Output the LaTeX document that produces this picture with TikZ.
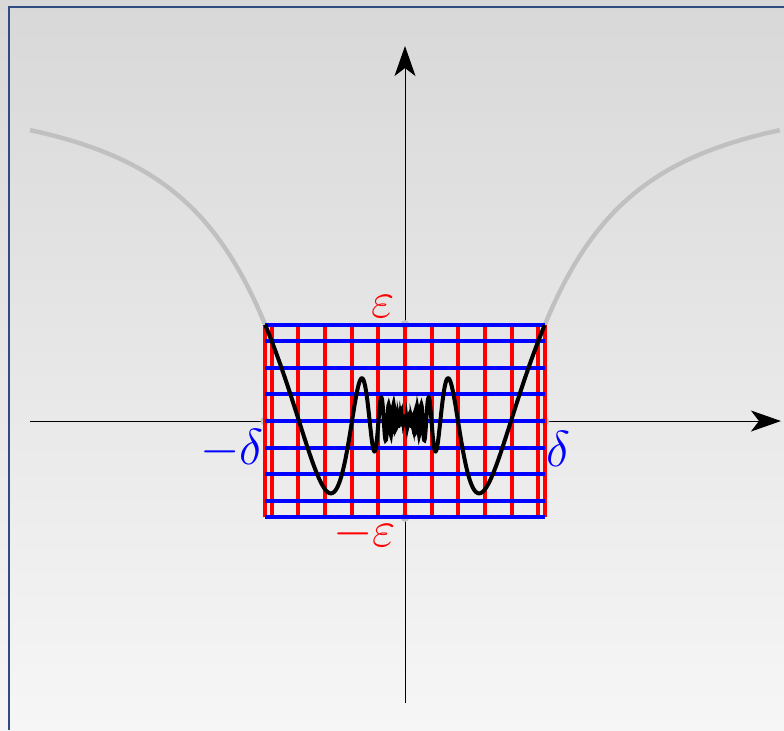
\documentclass[tikz,border=0pt]{standalone}
\usepackage{amssymb,tikz}
\usetikzlibrary{arrows.meta}
\definecolor{bgtop}{RGB}{216,216,216}
\definecolor{bgbot}{RGB}{246,246,246}
\definecolor{framecol}{RGB}{46,76,128}
\definecolor{ghost}{RGB}{192,192,192}

\begin{document}
\begin{tikzpicture}[x=166.5pt,y=166.5pt,
  declare function={f(\t)=\t*sin(deg(mod(1/\t,2*pi)));},
  axis/.style={line width=0.5pt,-{Stealth[length=15pt,width=10.5pt,inset=4pt]}},
  gridred/.style={red,line width=2pt},
  gridblue/.style={blue,line width=2pt},
  lbl/.style={font=\huge,scale=1.22}]
\useasboundingbox (-1.2162,-0.9279) rectangle (1.1381,1.2643);
\shade[top color=bgtop,bottom color=bgbot] (-1.2162,-0.9279) rectangle (1.1381,1.2643);
\draw[framecol,line width=0.8pt] (-1.1892,-0.9279) -- (-1.1892,1.2432) -- (1.1381,1.2432);
\draw[ghost,line width=2.2pt] plot[domain=-1.126:-0.42,samples=80,smooth] (\x,{f(\x)});
\draw[ghost,line width=2.2pt] plot[domain=0.42:1.126,samples=80,smooth] (\x,{f(\x)});
\draw[axis] (-1.126,0) -- (1.129,0);
\draw[axis] (0,-0.847) -- (0,1.126);
\fill[ghost] (-0.42,0) circle (0.0135);
\fill[ghost] (0.42,0) circle (0.0135);
\fill[ghost] (0,0.2895) circle (0.0135);
\fill[ghost] (0,-0.2895) circle (0.0135);
\draw[gridred] (-0.42,-0.2895) -- (-0.42,0.2895);
\draw[gridred] (-0.40,-0.2895) -- (-0.40,0.2895);
\draw[gridred] (-0.32,-0.2895) -- (-0.32,0.2895);
\draw[gridred] (-0.24,-0.2895) -- (-0.24,0.2895);
\draw[gridred] (-0.16,-0.2895) -- (-0.16,0.2895);
\draw[gridred] (-0.08,-0.2895) -- (-0.08,0.2895);
\draw[gridred] (0,-0.2895) -- (0,0.2895);
\draw[gridred] (0.08,-0.2895) -- (0.08,0.2895);
\draw[gridred] (0.16,-0.2895) -- (0.16,0.2895);
\draw[gridred] (0.24,-0.2895) -- (0.24,0.2895);
\draw[gridred] (0.32,-0.2895) -- (0.32,0.2895);
\draw[gridred] (0.40,-0.2895) -- (0.40,0.2895);
\draw[gridred] (0.42,-0.2895) -- (0.42,0.2895);
\draw[gridblue] (-0.42,-0.2895) -- (0.42,-0.2895);
\draw[gridblue] (-0.42,-0.24) -- (0.42,-0.24);
\draw[gridblue] (-0.42,-0.16) -- (0.42,-0.16);
\draw[gridblue] (-0.42,-0.08) -- (0.42,-0.08);
\draw[gridblue] (-0.42,0) -- (0.42,0);
\draw[gridblue] (-0.42,0.08) -- (0.42,0.08);
\draw[gridblue] (-0.42,0.16) -- (0.42,0.16);
\draw[gridblue] (-0.42,0.24) -- (0.42,0.24);
\draw[gridblue] (-0.42,0.2895) -- (0.42,0.2895);
\draw[black,line width=2pt] plot[domain=-0.42:0.42,samples=1000] (\x,{f(\x)});
\node[lbl,red] (epsup) at (-0.066,0.345) {$\varepsilon$};
\node[lbl,red] (epsdown) at (-0.1216,-0.338) {$-\varepsilon$};
\node[lbl,blue] (deltaleft) at (-0.520,-0.084) {$-\delta$};
\node[lbl,blue] (deltaright) at (0.461,-0.084) {$\delta$};
\end{tikzpicture}
\end{document}
